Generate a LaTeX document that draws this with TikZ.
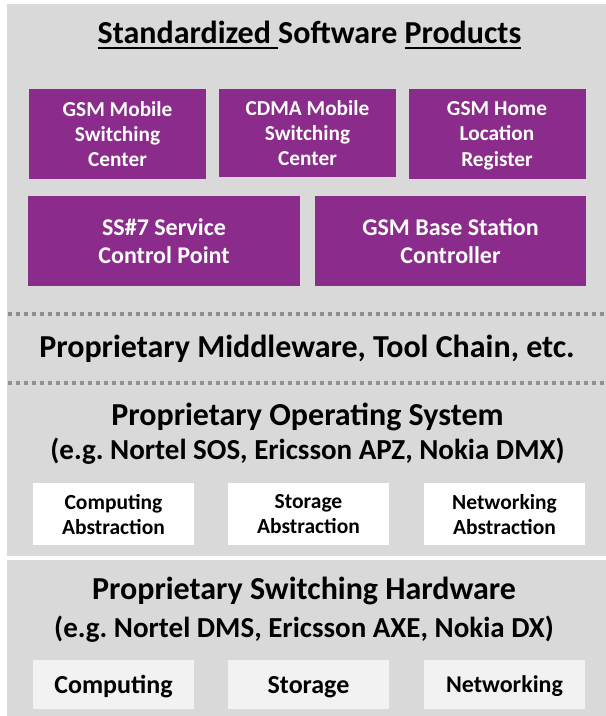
\documentclass[tikz,border=0pt]{standalone}
\usepackage{fontspec}
\setmainfont{Carlito}
\frenchspacing
\definecolor{panel}{HTML}{D9D9D9}
\definecolor{purp}{HTML}{8B2B8B}
\definecolor{lightbox}{HTML}{F2F2F2}
\definecolor{dotc}{HTML}{8F8F8F}
\newcommand\myul[1]{\setbox0\hbox{#1}\rlap{\rule[-6pt]{\wd0}{2pt}}\box0}
\tikzset{
  pbox/.style={fill=purp, text=white, align=center, inner sep=0pt, text depth=0pt,
    minimum width=177pt, minimum height=90pt,
    font=\fontsize{21.3}{25.3}\selectfont\bfseries},
  pbig/.style={pbox, minimum width=272pt,
    font=\fontsize{24}{28.7}\selectfont\bfseries},
  abox/.style={fill=white, align=center, inner sep=0pt, text depth=0pt,
    minimum width=161pt, minimum height=62pt,
    font=\fontsize{21.5}{25}\selectfont\bfseries},
  hbox/.style={fill=lightbox, align=center, inner sep=0pt, text depth=0pt,
    minimum width=161pt, minimum height=49pt,
    font=\fontsize{26}{30}\selectfont\bfseries},
  headA/.style={anchor=base, inner sep=0pt, font=\fontsize{32}{36}\selectfont\bfseries\frenchspacing},
  headB/.style={anchor=base, inner sep=0pt, font=\fontsize{29}{34}\selectfont\bfseries\frenchspacing},
  dotline/.style={dotc, line width=3.5pt, dash pattern=on 3.6pt off 4.4pt}
}
\begin{document}
\begin{tikzpicture}[x=1pt,y=-1pt]
\useasboundingbox (0,0) rectangle (606,716);
\fill[panel] (7,4) rectangle (606,556);
\fill[panel] (7,560) rectangle (606,716);
% title
\node[headA] (title) at (309.5,43)
  {\myul{Standardized\ }Software \myul{Products}};
% purple boxes
\node[pbox] (gsmmsc) at (117.5,134) {GSM Mobile\\Switching\\Center};
\node[pbox, minimum height=88pt] (cdma) at (307.5,133) {CDMA Mobile\\Switching\\Center};
\node[pbox] (hlr) at (497,134) {GSM Home\\Location\\Register};
\node[pbig] (scp) at (164,241) {SS\#7 Service\\Control Point};
\node[pbig, minimum width=271pt] (bsc) at (450.5,241) {GSM Base Station\\Controller};
% dotted lines
\coordinate (d1a) at (8,314); \coordinate (d1b) at (606,314);
\coordinate (d2a) at (8,383); \coordinate (d2b) at (606,383);
\draw[dotline] (d1a) -- (d1b);
\draw[dotline] (d2a) -- (d2b);
% middleware
\node[headA] (mw) at (307,357) {Proprietary Middleware, Tool Chain, etc.};
% OS
\node[headA] (os) at (307.5,425) {Proprietary Operating System};
\node[headB] (osx) at (307.5,459) {(e.g. Nortel SOS, Ericsson APZ, Nokia DMX)};
\node[abox] (ca) at (113.5,514) {Computing\\Abstraction};
\node[abox] (sa) at (308.5,514) {Storage\\Abstraction};
\node[abox] (na) at (504.5,514) {Networking\\Abstraction};
% hardware
\node[headA] (hw) at (304,599) {Proprietary Switching Hardware};
\node[headB] (hwx) at (304,637) {(e.g. Nortel DMS, Ericsson AXE, Nokia DX)};
\node[hbox] (hc) at (113.5,684.5) {Computing};
\node[hbox] (hs) at (308.5,684.5) {Storage};
\node[hbox, font=\fontsize{24}{28}\selectfont\bfseries] (hn) at (504.5,684.5) {Networking};
\end{tikzpicture}
\end{document}
